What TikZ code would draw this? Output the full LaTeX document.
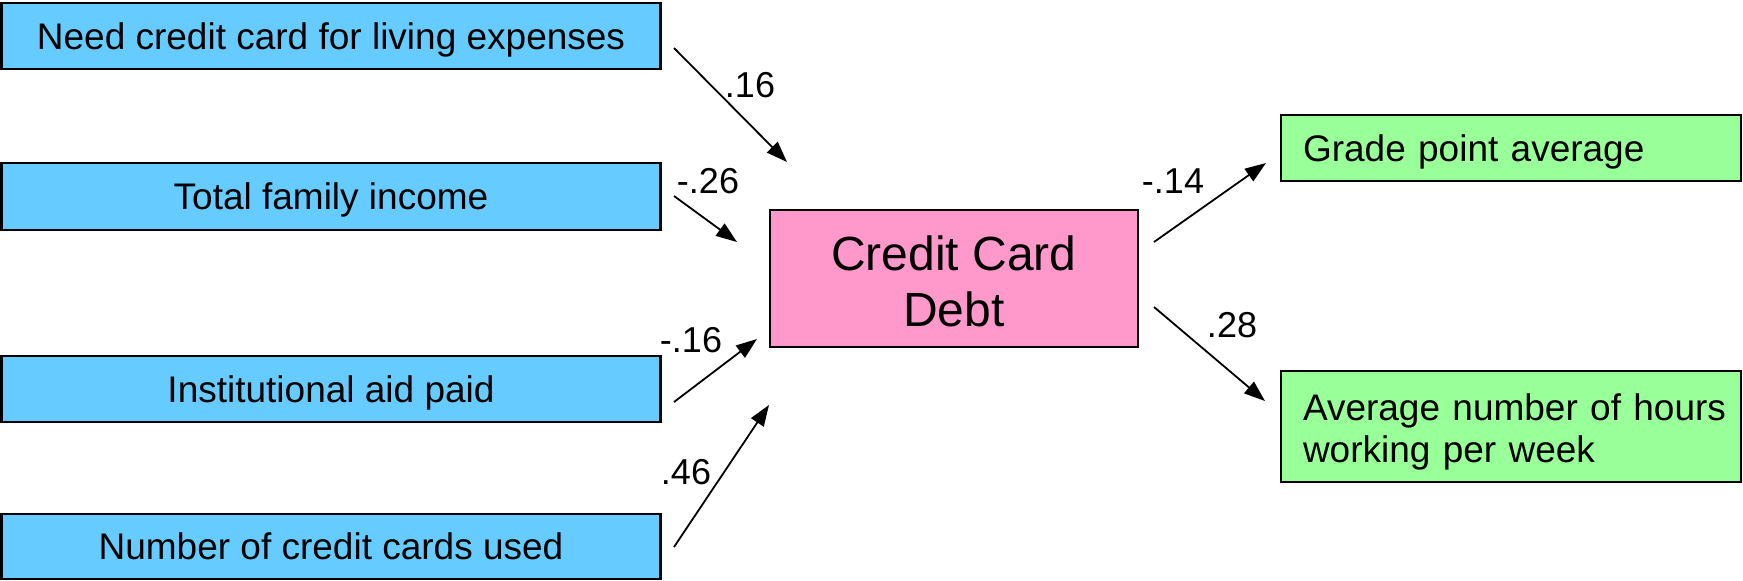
\documentclass[tikz,border=0pt]{standalone}
\usepackage{fontspec}
\setmainfont{Liberation Sans}
\usetikzlibrary{arrows.meta}
\definecolor{boxblue}{HTML}{66CCFF}
\definecolor{boxpink}{HTML}{FF99CC}
\definecolor{boxgreen}{HTML}{99FF99}
\begin{document}
\begin{tikzpicture}[x=1pt,y=-1pt,
  base/.style={draw=black, line width=2.5pt, inner sep=0pt, outer sep=0pt},
  bluebox/.style={base, fill=boxblue, minimum width=659pt, align=center, text height=26.5pt, text depth=0pt, font=\fontsize{37}{42}\selectfont},
  pinkbox/.style={base, fill=boxpink, minimum width=368pt, minimum height=137pt, align=center, font=\fontsize{48}{56}\selectfont},
  greenbox/.style={base, fill=boxgreen, inner xsep=22pt, text width=416pt, align=left, font=\fontsize{37}{42}\selectfont},
  arr/.style={line width=1.8pt, -{Triangle[length=21pt,width=15pt]}},
  lbl/.style={inner sep=0pt, font=\fontsize{36}{40}\selectfont}]
\useasboundingbox (0,0) rectangle (1743,581);
% source boxes
\node[bluebox, minimum height=66pt] (need) at (331,36) {Need credit card for living expenses};
\node[bluebox, minimum height=67pt] (income) at (331,196.5) {Total family income};
\node[bluebox, minimum height=66pt] (aid) at (331,389) {Institutional aid paid};
\node[bluebox, minimum height=65pt] (cards) at (331,546.5) {Number of credit cards used};
% central box
\node[pinkbox] (debt) at (954,278.5) {\rule{0pt}{40pt}Credit Card\\Debt};
% outcome boxes
\node[greenbox, minimum height=66pt, text height=26.5pt, text depth=0pt] (gpa) at (1511,148) {Grade point average};
\node[greenbox, minimum height=111pt] (hours) at (1511,426.5) {\rule{0pt}{38pt}\mbox{Average number of hours}\\working per week};
% arrow end points
\coordinate (a1s) at (674,48);   \coordinate (a1e) at (787,162);
\coordinate (a2s) at (674,196);  \coordinate (a2e) at (737,242);
\coordinate (a3s) at (674,402);  \coordinate (a3e) at (757,339);
\coordinate (a4s) at (674,547);  \coordinate (a4e) at (769,405);
\coordinate (a5s) at (1154,242); \coordinate (a5e) at (1266,163);
\coordinate (a6s) at (1154,307); \coordinate (a6e) at (1265,401);
\draw[arr] (a1s) -- (a1e);
\draw[arr] (a2s) -- (a2e);
\draw[arr] (a3s) -- (a3e);
\draw[arr] (a4s) -- (a4e);
\draw[arr] (a5s) -- (a5e);
\draw[arr] (a6s) -- (a6e);
% path coefficients
\node[lbl] (l1) at (750,85) {.16};
\node[lbl] (l2) at (708,181) {-.26};
\node[lbl] (l3) at (691,340) {-.16};
\node[lbl] (l4) at (686,472) {.46};
\node[lbl] (l5) at (1173,181) {-.14};
\node[lbl] (l6) at (1232,325) {.28};
\end{tikzpicture}
\end{document}
